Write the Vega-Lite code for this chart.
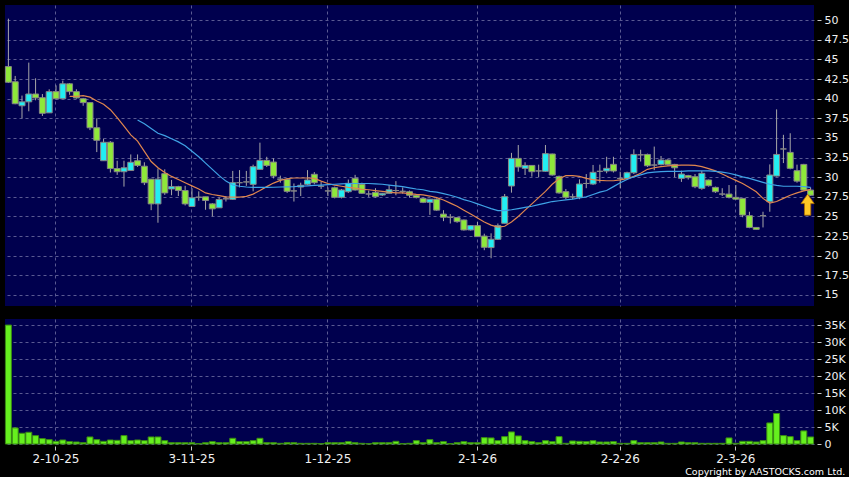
{
  "$schema": "https://vega.github.io/schema/vega-lite/v6.json",
  "background": "#000000",
  "padding": {"left": 4, "top": 5, "right": 0, "bottom": 0},
  "bounds": "flush",
  "spacing": 13,
  "config": {
    "view": {"fill": "#00004e", "stroke": null},
    "axis": {"labelFont": "DejaVu Sans", "labelColor": "#f0f0f0", "gridColor": "#5a5a92", "gridDash": [3, 3], "gridWidth": 1, "gridOpacity": 1, "domain": false, "tickColor": "#c8c8c8", "title": null}
  },
  "data": {"values": [
    {"d":"22-9-25","o":44.1,"h":50.2,"l":42.0,"c":42.1,"v":35000},
    {"d":"23-9-25","o":42.16,"h":42.9,"l":39.3,"c":39.36,"v":4730},
    {"d":"24-9-25","o":39.1,"h":40.4,"l":37.5,"c":39.6,"v":3160},
    {"d":"25-9-25","o":39.6,"h":44.6,"l":38.4,"c":40.6,"v":3450},
    {"d":"26-9-25","o":40.6,"h":42.6,"l":39.8,"c":40.1,"v":2470},
    {"d":"29-9-25","o":40.13,"h":40.6,"l":37.8,"c":38.14,"v":1580},
    {"d":"30-9-25","o":38.2,"h":41.2,"l":38.2,"c":40.9,"v":1280},
    {"d":"2-10-25","o":40.9,"h":41.7,"l":39.9,"c":40.0,"v":790},
    {"d":"3-10-25","o":40.0,"h":42.3,"l":40.0,"c":41.9,"v":1180},
    {"d":"6-10-25","o":41.9,"h":42.0,"l":40.5,"c":40.9,"v":690,"m10":40.3},
    {"d":"8-10-25","o":40.9,"h":41.2,"l":40.0,"c":40.1,"v":590,"m10":40.3},
    {"d":"9-10-25","o":40.0,"h":40.1,"l":39.1,"c":39.5,"v":390,"m10":40.4},
    {"d":"10-10-25","o":39.5,"h":39.5,"l":36.0,"c":36.3,"v":2070,"m10":40.2},
    {"d":"13-10-25","o":36.3,"h":37.5,"l":33.2,"c":34.7,"v":1280,"m10":39.7},
    {"d":"14-10-25","o":32.1,"h":34.9,"l":32.1,"c":34.45,"v":790,"m10":39.3},
    {"d":"15-10-25","o":34.45,"h":34.6,"l":30.6,"c":31.1,"v":1180,"m10":38.6},
    {"d":"16-10-25","o":31.1,"h":32.1,"l":30.3,"c":30.7,"v":1080,"m10":37.6},
    {"d":"17-10-25","o":30.7,"h":32.1,"l":28.8,"c":31.2,"v":2470,"m10":36.5},
    {"d":"20-10-25","o":30.85,"h":32.9,"l":30.85,"c":31.9,"v":990,"m10":35.4},
    {"d":"21-10-25","o":32.1,"h":32.9,"l":31.3,"c":31.5,"v":1180,"m10":34.6,"m20":37.3},
    {"d":"22-10-25","o":31.4,"h":31.9,"l":29.0,"c":29.3,"v":990,"m10":33.3,"m20":36.8},
    {"d":"23-10-25","o":29.75,"h":29.75,"l":25.8,"c":26.6,"v":2070,"m10":32.0,"m20":36.2},
    {"d":"24-10-25","o":26.6,"h":31.1,"l":24.2,"c":29.75,"v":2070,"m10":31.2,"m20":35.6},
    {"d":"27-10-25","o":30.45,"h":31.0,"l":27.75,"c":28.0,"v":990,"m10":30.6,"m20":35.3},
    {"d":"28-10-25","o":28.5,"h":29.65,"l":27.7,"c":28.8,"v":390,"m10":30.1,"m20":34.9},
    {"d":"30-10-25","o":28.8,"h":28.9,"l":27.6,"c":28.3,"v":390,"m10":29.7,"m20":34.5},
    {"d":"31-10-25","o":28.3,"h":28.9,"l":26.4,"c":26.6,"v":390,"m10":29.3,"m20":34.0},
    {"d":"3-11-25","o":26.27,"h":28.6,"l":26.2,"c":27.37,"v":390,"m10":28.9,"m20":33.3},
    {"d":"4-11-25","o":27.45,"h":28.2,"l":27.0,"c":27.45,"v":100,"m10":28.5,"m20":32.6},
    {"d":"5-11-25","o":27.5,"h":27.5,"l":25.85,"c":27.03,"v":390,"m10":28.0,"m20":31.8},
    {"d":"6-11-25","o":26.6,"h":26.7,"l":25.0,"c":25.97,"v":690,"m10":27.8,"m20":31.0},
    {"d":"7-11-25","o":26.1,"h":27.4,"l":26.1,"c":27.16,"v":390,"m10":27.65,"m20":30.2},
    {"d":"10-11-25","o":27.25,"h":27.6,"l":26.9,"c":27.25,"v":390,"m10":27.5,"m20":29.5},
    {"d":"11-11-25","o":27.18,"h":30.8,"l":27.1,"c":29.3,"v":1680,"m10":27.45,"m20":29.0},
    {"d":"12-11-25","o":29.3,"h":30.9,"l":28.7,"c":29.3,"v":690,"m10":27.45,"m20":28.85},
    {"d":"13-11-25","o":29.4,"h":30.8,"l":28.9,"c":29.4,"v":690,"m10":27.55,"m20":28.75},
    {"d":"14-11-25","o":29.09,"h":31.6,"l":28.2,"c":31.34,"v":990,"m10":27.85,"m20":28.7},
    {"d":"17-11-25","o":31.0,"h":34.4,"l":31.0,"c":32.14,"v":1680,"m10":28.3,"m20":28.7},
    {"d":"18-11-25","o":32.14,"h":32.6,"l":31.3,"c":31.5,"v":390,"m10":28.8,"m20":28.7},
    {"d":"19-11-25","o":31.93,"h":32.4,"l":29.85,"c":30.15,"v":390,"m10":29.25,"m20":28.72},
    {"d":"20-11-25","o":29.75,"h":30.2,"l":29.3,"c":29.75,"v":200,"m10":29.6,"m20":28.75},
    {"d":"21-11-25","o":29.73,"h":29.9,"l":28.0,"c":28.2,"v":390,"m10":29.8,"m20":28.78},
    {"d":"24-11-25","o":28.25,"h":29.2,"l":26.9,"c":28.25,"v":390,"m10":29.9,"m20":28.8},
    {"d":"25-11-25","o":28.75,"h":29.3,"l":27.6,"c":28.97,"v":200,"m10":29.9,"m20":28.85},
    {"d":"26-11-25","o":29.1,"h":30.9,"l":29.0,"c":29.64,"v":200,"m10":29.9,"m20":28.9},
    {"d":"27-11-25","o":30.37,"h":30.65,"l":29.1,"c":29.3,"v":200,"m10":29.85,"m20":28.95},
    {"d":"28-11-25","o":28.85,"h":29.4,"l":28.5,"c":28.85,"v":100,"m10":29.5,"m20":29.0},
    {"d":"1-12-25","o":28.25,"h":28.7,"l":27.6,"c":28.25,"v":390,"m10":29.2,"m20":29.05},
    {"d":"2-12-25","o":28.66,"h":28.8,"l":27.3,"c":27.44,"v":390,"m10":29.0,"m20":29.1},
    {"d":"3-12-25","o":27.44,"h":28.5,"l":27.3,"c":28.37,"v":390,"m10":28.85,"m20":29.15},
    {"d":"4-12-25","o":28.15,"h":29.7,"l":28.0,"c":29.22,"v":690,"m10":28.7,"m20":29.2},
    {"d":"5-12-25","o":29.86,"h":30.3,"l":28.3,"c":28.37,"v":390,"m10":28.6,"m20":29.2},
    {"d":"8-12-25","o":29.1,"h":29.3,"l":27.9,"c":27.95,"v":200,"m10":28.45,"m20":29.2},
    {"d":"9-12-25","o":27.86,"h":28.3,"l":27.5,"c":27.86,"v":100,"m10":28.4,"m20":29.2},
    {"d":"10-12-25","o":28.07,"h":28.6,"l":27.4,"c":27.52,"v":390,"m10":28.3,"m20":29.15},
    {"d":"11-12-25","o":27.73,"h":28.0,"l":27.6,"c":27.95,"v":390,"m10":28.2,"m20":29.1},
    {"d":"12-12-25","o":27.95,"h":29.0,"l":27.9,"c":28.4,"v":390,"m10":28.1,"m20":29.0},
    {"d":"15-12-25","o":28.3,"h":29.5,"l":27.7,"c":28.3,"v":790,"m10":28.0,"m20":28.9},
    {"d":"16-12-25","o":28.2,"h":28.7,"l":27.9,"c":28.2,"v":100,"m10":28.0,"m20":28.8},
    {"d":"17-12-25","o":28.15,"h":28.3,"l":27.4,"c":27.7,"v":200,"m10":27.9,"m20":28.65},
    {"d":"18-12-25","o":27.7,"h":27.8,"l":27.3,"c":27.4,"v":990,"m10":27.8,"m20":28.5},
    {"d":"19-12-25","o":27.3,"h":27.4,"l":26.7,"c":26.8,"v":390,"m10":27.75,"m20":28.4},
    {"d":"22-12-25","o":26.8,"h":27.2,"l":25.2,"c":27.2,"v":1280,"m10":27.6,"m20":28.2},
    {"d":"23-12-25","o":27.2,"h":27.3,"l":25.7,"c":25.8,"v":390,"m10":27.4,"m20":28.1},
    {"d":"24-12-25","o":25.3,"h":25.8,"l":24.4,"c":24.9,"v":690,"m10":27.1,"m20":27.9},
    {"d":"29-12-25","o":24.9,"h":25.3,"l":24.1,"c":24.9,"v":100,"m10":26.7,"m20":27.7},
    {"d":"30-12-25","o":24.85,"h":24.9,"l":24.2,"c":24.34,"v":390,"m10":26.3,"m20":27.45},
    {"d":"31-12-25","o":24.55,"h":24.6,"l":23.2,"c":23.28,"v":690,"m10":25.8,"m20":27.15},
    {"d":"26-12-25","o":23.28,"h":23.9,"l":23.2,"c":23.83,"v":390,"m10":25.3,"m20":26.9},
    {"d":"2-1-26","o":23.83,"h":24.3,"l":22.4,"c":22.43,"v":390,"m10":24.8,"m20":26.6},
    {"d":"5-1-26","o":22.5,"h":22.8,"l":20.7,"c":21.07,"v":1870,"m10":24.3,"m20":26.3},
    {"d":"6-1-26","o":21.03,"h":22.85,"l":19.67,"c":22.09,"v":1780,"m10":23.9,"m20":26.0},
    {"d":"7-1-26","o":22.09,"h":24.1,"l":22.0,"c":23.83,"v":990,"m10":23.65,"m20":25.75},
    {"d":"8-1-26","o":24.13,"h":27.86,"l":24.1,"c":27.52,"v":2170,"m10":23.75,"m20":25.75},
    {"d":"9-1-26","o":28.88,"h":33.1,"l":28.03,"c":32.4,"v":3550,"m10":24.3,"m20":25.85},
    {"d":"12-1-26","o":32.4,"h":34.1,"l":30.7,"c":31.3,"v":2370,"m10":25.0,"m20":26.0},
    {"d":"13-1-26","o":31.13,"h":31.9,"l":30.28,"c":31.5,"v":990,"m10":25.8,"m20":26.15},
    {"d":"14-1-26","o":31.5,"h":31.5,"l":30.07,"c":30.7,"v":690,"m10":26.6,"m20":26.3},
    {"d":"15-1-26","o":30.8,"h":31.6,"l":30.0,"c":30.8,"v":390,"m10":27.4,"m20":26.5},
    {"d":"16-1-26","o":30.75,"h":34.1,"l":30.7,"c":33.0,"v":990,"m10":28.2,"m20":26.7},
    {"d":"19-1-26","o":32.96,"h":33.0,"l":30.2,"c":30.28,"v":690,"m10":29.1,"m20":26.9},
    {"d":"20-1-26","o":30.1,"h":30.2,"l":27.9,"c":28.0,"v":2170,"m10":29.8,"m20":27.0},
    {"d":"21-1-26","o":28.16,"h":28.5,"l":27.2,"c":27.44,"v":200,"m10":30.2,"m20":27.1},
    {"d":"22-1-26","o":27.5,"h":27.9,"l":27.2,"c":27.5,"v":890,"m10":30.2,"m20":27.2},
    {"d":"23-1-26","o":27.44,"h":29.73,"l":27.2,"c":29.13,"v":790,"m10":30.1,"m20":27.35},
    {"d":"26-1-26","o":29.2,"h":30.4,"l":28.6,"c":29.2,"v":690,"m10":29.85,"m20":27.5},
    {"d":"27-1-26","o":29.13,"h":31.56,"l":29.0,"c":30.62,"v":990,"m10":29.7,"m20":27.8},
    {"d":"28-1-26","o":30.75,"h":31.6,"l":29.3,"c":30.75,"v":590,"m10":29.6,"m20":28.1},
    {"d":"29-1-26","o":30.79,"h":32.6,"l":30.5,"c":31.13,"v":590,"m10":29.55,"m20":28.3},
    {"d":"30-1-26","o":31.64,"h":32.6,"l":30.6,"c":30.79,"v":690,"m10":29.55,"m20":28.8},
    {"d":"2-2-26","o":29.85,"h":30.7,"l":28.6,"c":29.85,"v":200,"m10":29.65,"m20":29.3},
    {"d":"3-2-26","o":29.85,"h":30.7,"l":29.7,"c":30.57,"v":200,"m10":29.8,"m20":29.7},
    {"d":"4-2-26","o":30.57,"h":33.55,"l":30.4,"c":32.9,"v":990,"m10":30.1,"m20":30.05},
    {"d":"5-2-26","o":32.85,"h":33.5,"l":32.0,"c":32.85,"v":390,"m10":30.5,"m20":30.3},
    {"d":"6-2-26","o":32.9,"h":33.0,"l":31.3,"c":31.46,"v":390,"m10":31.0,"m20":30.55},
    {"d":"9-2-26","o":31.55,"h":33.9,"l":30.9,"c":31.55,"v":390,"m10":31.2,"m20":30.65},
    {"d":"10-2-26","o":31.63,"h":32.7,"l":31.5,"c":32.19,"v":590,"m10":31.35,"m20":30.7},
    {"d":"11-2-26","o":32.19,"h":32.3,"l":31.5,"c":31.63,"v":200,"m10":31.45,"m20":30.75},
    {"d":"12-2-26","o":31.63,"h":31.7,"l":30.0,"c":31.2,"v":200,"m10":31.5,"m20":30.75},
    {"d":"13-2-26","o":29.85,"h":30.83,"l":29.4,"c":30.4,"v":590,"m10":31.55,"m20":30.75},
    {"d":"16-2-26","o":30.2,"h":30.3,"l":29.7,"c":29.94,"v":390,"m10":31.55,"m20":30.8},
    {"d":"20-2-26","o":30.06,"h":30.4,"l":28.6,"c":28.79,"v":390,"m10":31.5,"m20":30.8},
    {"d":"23-2-26","o":28.58,"h":30.8,"l":28.4,"c":30.49,"v":200,"m10":31.35,"m20":30.8},
    {"d":"24-2-26","o":29.64,"h":29.7,"l":28.8,"c":28.92,"v":200,"m10":31.1,"m20":30.8},
    {"d":"25-2-26","o":28.7,"h":28.8,"l":28.0,"c":28.15,"v":200,"m10":30.8,"m20":30.75},
    {"d":"26-2-26","o":27.85,"h":28.6,"l":27.6,"c":27.85,"v":200,"m10":30.4,"m20":30.65},
    {"d":"27-2-26","o":27.85,"h":29.0,"l":27.3,"c":27.43,"v":1780,"m10":30.0,"m20":30.5},
    {"d":"2-3-26","o":27.43,"h":29.0,"l":27.1,"c":27.2,"v":200,"m10":29.6,"m20":30.3},
    {"d":"3-3-26","o":27.3,"h":27.3,"l":24.9,"c":25.18,"v":790,"m10":29.2,"m20":30.05},
    {"d":"4-3-26","o":25.1,"h":25.6,"l":23.5,"c":23.6,"v":790,"m10":28.7,"m20":29.85},
    {"d":"5-3-26","o":23.6,"h":23.6,"l":23.3,"c":23.35,"v":590,"m10":28.15,"m20":29.6},
    {"d":"6-3-26","o":25.1,"h":25.6,"l":23.6,"c":25.1,"v":990,"m10":27.3,"m20":29.35},
    {"d":"9-3-26","o":26.88,"h":31.63,"l":25.6,"c":30.28,"v":6200,"m10":26.7,"m20":29.1},
    {"d":"10-3-26","o":30.15,"h":38.64,"l":30.1,"c":32.9,"v":8970,"m10":26.9,"m20":28.95},
    {"d":"11-3-26","o":33.6,"h":35.4,"l":31.8,"c":33.6,"v":2470,"m10":27.3,"m20":28.85},
    {"d":"12-3-26","o":33.16,"h":35.6,"l":31.0,"c":31.13,"v":2170,"m10":27.7,"m20":28.85},
    {"d":"13-3-26","o":30.83,"h":31.6,"l":29.3,"c":29.5,"v":990,"m10":28.0,"m20":28.85},
    {"d":"16-3-26","o":31.63,"h":31.7,"l":28.3,"c":28.36,"v":3850,"m10":28.25,"m20":28.8},
    {"d":"17-3-26","o":28.36,"h":28.7,"l":27.6,"c":27.7,"v":2070,"m10":28.45,"m20":28.7,"ar":26.5}
  ]},
  "vconcat": [
    {
      "width": 809,
      "height": 301,
      "encoding": {
        "x": {"field": "d", "type": "ordinal", "sort": null,
              "scale": {"paddingInner": 0.12, "paddingOuter": 0.06},
              "axis": {"values": ["2-10-25", "3-11-25", "1-12-25", "2-1-26", "2-2-26", "2-3-26"], "labels": false, "ticks": false, "grid": true}}
      },
      "layer": [
        {
          "mark": {"type": "rule", "color": "#a8a8a8", "strokeWidth": 1},
          "encoding": {
            "y": {"field": "l", "type": "quantitative",
                  "scale": {"domain": [13.59, 51.94], "nice": false, "zero": false},
                  "axis": {"orient": "right", "values": [15, 17.5, 20, 22.5, 25, 27.5, 30, 32.5, 35, 37.5, 40, 42.5, 45, 47.5, 50], "labelExpr": "datum.value + ''", "grid": true, "tickSize": 4, "offset": 3, "labelPadding": 3, "labelFontSize": 11, "labelOverlap": false, "labelFlush": false}},
            "y2": {"field": "h"}
          }
        },
        {
          "mark": {"type": "bar", "stroke": "#868686", "strokeWidth": 1},
          "encoding": {
            "y": {"field": "o", "type": "quantitative",
                  "axis": {"orient": "right", "values": [15, 17.5, 20, 22.5, 25, 27.5, 30, 32.5, 35, 37.5, 40, 42.5, 45, 47.5, 50], "labelExpr": "datum.value + ''", "grid": true, "tickSize": 4, "offset": 3, "labelPadding": 3, "labelFontSize": 11, "labelOverlap": false, "labelFlush": false}},
            "y2": {"field": "c"},
            "color": {"condition": [{"test": "datum.c > datum.o", "value": "#22eef2"}, {"test": "datum.c < datum.o", "value": "#8ee83a"}], "value": "#9a9a9a"}
          }
        },
        {
          "mark": {"type": "line", "color": "#e0864e", "strokeWidth": 1.2},
          "encoding": {"y": {"field": "m10", "type": "quantitative",
                  "axis": {"orient": "right", "values": [15, 17.5, 20, 22.5, 25, 27.5, 30, 32.5, 35, 37.5, 40, 42.5, 45, 47.5, 50], "labelExpr": "datum.value + ''", "grid": true, "tickSize": 4, "offset": 3, "labelPadding": 3, "labelFontSize": 11, "labelOverlap": false, "labelFlush": false}}}
        },
        {
          "mark": {"type": "line", "color": "#3fa3e6", "strokeWidth": 1.2},
          "encoding": {"y": {"field": "m20", "type": "quantitative",
                  "axis": {"orient": "right", "values": [15, 17.5, 20, 22.5, 25, 27.5, 30, 32.5, 35, 37.5, 40, 42.5, 45, 47.5, 50], "labelExpr": "datum.value + ''", "grid": true, "tickSize": 4, "offset": 3, "labelPadding": 3, "labelFontSize": 11, "labelOverlap": false, "labelFlush": false}}}
        },
        {
          "mark": {"type": "point", "shape": "M0,-1L0.63,-0.1L0.3,-0.1L0.3,1L-0.3,1L-0.3,-0.1L-0.63,-0.1Z", "filled": true, "size": 441, "color": "#ffc825", "stroke": "#b07000", "strokeWidth": 0.8, "opacity": 1, "xOffset": -3},
          "encoding": {"y": {"field": "ar", "type": "quantitative",
                  "axis": {"orient": "right", "values": [15, 17.5, 20, 22.5, 25, 27.5, 30, 32.5, 35, 37.5, 40, 42.5, 45, 47.5, 50], "labelExpr": "datum.value + ''", "grid": true, "tickSize": 4, "offset": 3, "labelPadding": 3, "labelFontSize": 11, "labelOverlap": false, "labelFlush": false}}}
        }
      ]
    },
    {
      "width": 809,
      "height": 125,
      "title": {"text": "Copyright by AASTOCKS.com Ltd.", "orient": "bottom", "anchor": "end", "font": "DejaVu Sans", "fontSize": 9.5, "fontWeight": "normal", "color": "#ffffff", "offset": 3},
      "mark": {"type": "bar", "color": "#66f01e", "stroke": "#3b8c12", "strokeWidth": 1},
      "encoding": {
        "x": {"field": "d", "type": "ordinal", "sort": null,
              "scale": {"paddingInner": 0.12, "paddingOuter": 0.06},
              "axis": {"values": ["2-10-25", "3-11-25", "1-12-25", "2-1-26", "2-2-26", "2-3-26"], "labelAngle": 0, "labelFontSize": 12, "grid": true, "ticks": true, "tickSize": 4, "offset": 2, "labelPadding": 3}},
        "y": {"field": "v", "type": "quantitative",
              "scale": {"domain": [0, 36780], "nice": false},
              "axis": {"orient": "right", "values": [0, 5000, 10000, 15000, 20000, 25000, 30000, 35000], "labelExpr": "datum.value == 0 ? '0' : (datum.value / 1000) + 'K'", "grid": true, "tickSize": 4, "offset": 3, "labelPadding": 3, "labelFontSize": 11, "labelOverlap": false, "labelFlush": false}}
      }
    }
  ]
}
